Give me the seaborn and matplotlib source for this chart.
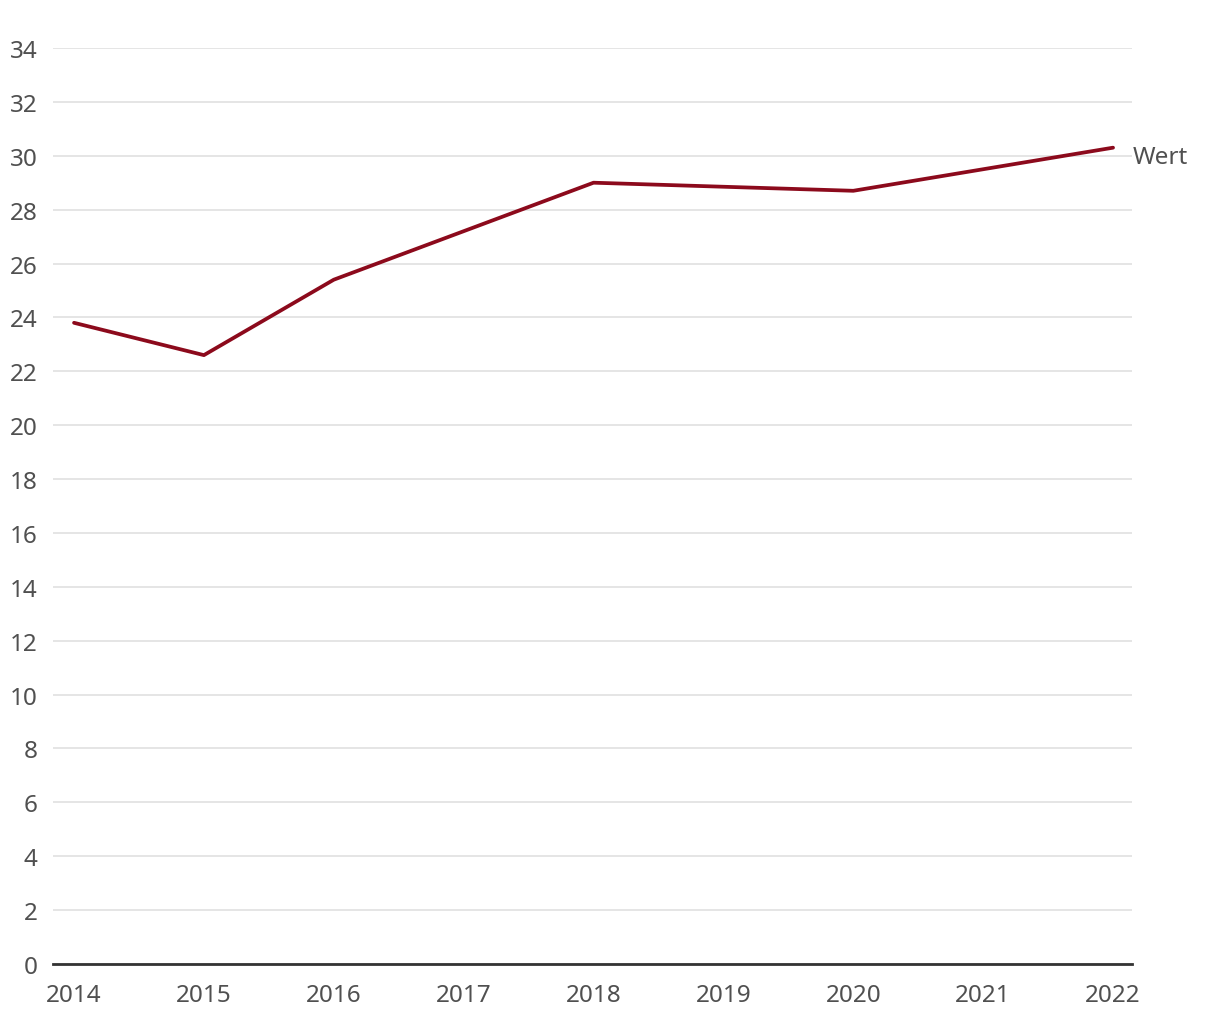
import pandas as pd
import matplotlib
matplotlib.use("Agg")
import matplotlib.pyplot as plt
import seaborn as sns

# data
years = [2014, 2015, 2016, 2018, 2020, 2022]
values = [23.8, 22.6, 25.4, 29.0, 28.7, 30.3]
series_name = "Wert"
x_ticks = list(range(2014, 2023))
y_ticks = list(range(0, 35, 2))

df = pd.DataFrame({"Jahr": years, "Wert": values})

sns.set_theme(style="white")
plt.rcParams["font.family"] = ["Noto Sans", "DejaVu Sans"]

text_color = "#505050"
line_color = "#8c0a1c"

fig = plt.figure(figsize=(12.2, 10.2), dpi=100)
ax = fig.add_axes([53 / 1220, 55 / 1020, (1132 - 53) / 1220, (964 - 48) / 1020])

sns.lineplot(data=df, x="Jahr", y="Wert", ax=ax, color=line_color,
             linewidth=2.7, solid_capstyle="round", zorder=3)

ax.set_xlim(2013.838, 2022.146)
ax.set_ylim(0, 34)
ax.set_xticks(x_ticks)
ax.set_yticks(y_ticks)
ax.set_xticklabels([str(t) for t in x_ticks])
ax.set_xlabel("")
ax.set_ylabel("")

ax.grid(axis="y", color="#e3e3e3", linewidth=1.3, zorder=0)
ax.grid(axis="x", visible=False)
for side in ["top", "right", "left"]:
    ax.spines[side].set_visible(False)
ax.spines["bottom"].set_color("#333333")
ax.spines["bottom"].set_linewidth(2.0)
ax.spines["bottom"].set_zorder(4)

ax.tick_params(axis="both", length=0, labelsize=17.5, colors=text_color)
ax.tick_params(axis="y", pad=11)
ax.tick_params(axis="x", pad=14)

# series label at the end of the line
ax.annotate(series_name, xy=(years[-1], values[-1]), xytext=(20, -9),
            textcoords="offset pixels", va="center", ha="left",
            fontsize=17.5, color=text_color, annotation_clip=False)

fig.savefig("out.png", dpi=100, facecolor="white")
